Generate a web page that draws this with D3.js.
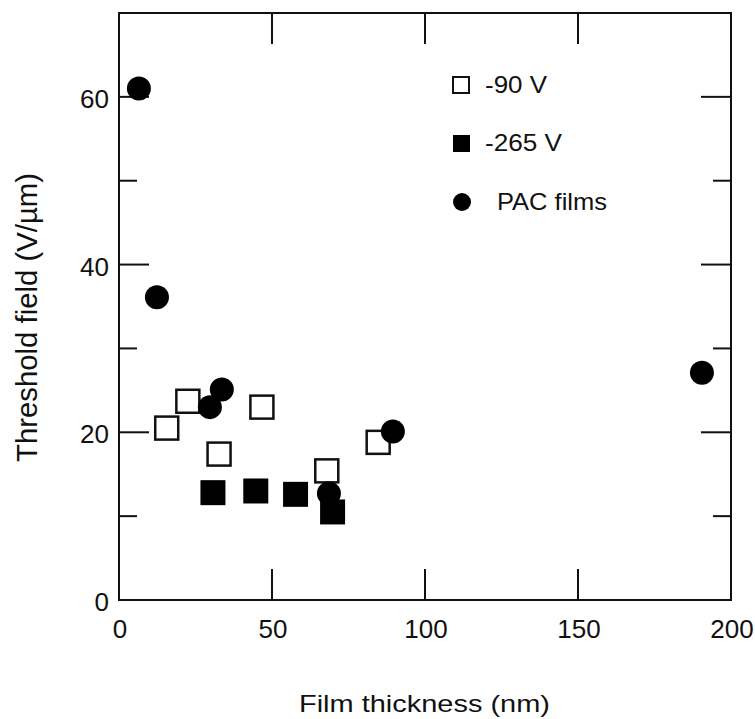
<!DOCTYPE html>
<html>
<head>
<meta charset="UTF-8">
<title>Threshold field vs film thickness</title>
<style>
  body { margin: 0; background: #fff; }
  svg { display: block; }
  text { font-family: "Liberation Sans", Arial, sans-serif; fill: #111; }
</style>
<script src="https://d3js.org/d3.v7.min.js"></script>
</head>
<body>
<svg id="chart" width="755" height="719"></svg>
<script>
  // series: [thickness nm, threshold V/um]
  const open90 = [[15.6, 20.5], [22.5, 23.7], [32.7, 17.4], [46.7, 23.0], [67.9, 15.4], [84.7, 18.8]];
  const filled265 = [[30.7, 12.8], [44.7, 13.0], [57.7, 12.6], [69.8, 10.5]];
  const pacFilms = [[6.5, 61.0], [12.4, 36.1], [29.7, 23.0], [33.6, 25.1], [68.6, 12.7], [89.5, 20.1], [190.5, 27.1]];

  const xTicks = [0, 50, 100, 150, 200];
  const yTicks = [0, 20, 40, 60];
  const yMinor = [10, 30, 50];
  const legendLabels = ['-90 V', '-265 V', 'PAC films'];

  const svg = d3.select('#chart');
  const m = { left: 119, right: 731, top: 13, bottom: 600 };

  const x = d3.scaleLinear().domain([0, 200]).range([m.left, m.right]);
  const y = d3.scaleLinear().domain([0, 70]).range([m.bottom, m.top]);

  const g = svg.append('g');

  // frame
  g.append('rect')
    .attr('x', m.left).attr('y', m.top)
    .attr('width', m.right - m.left).attr('height', m.bottom - m.top)
    .attr('fill', 'none').attr('stroke', '#111').attr('stroke-width', 2);

  // x ticks (inward, bottom and top)
  const innerX = xTicks.filter(d => d > 0 && d < 200);
  g.append('g').selectAll('line').data(innerX).join('line')
    .attr('x1', d => x(d)).attr('x2', d => x(d))
    .attr('y1', m.bottom).attr('y2', m.bottom - 31)
    .attr('stroke', '#111').attr('stroke-width', 2);
  g.append('g').selectAll('line').data(innerX).join('line')
    .attr('x1', d => x(d)).attr('x2', d => x(d))
    .attr('y1', m.top).attr('y2', m.top + 31)
    .attr('stroke', '#111').attr('stroke-width', 2);

  // y ticks (inward, left and right)
  const innerY = yTicks.filter(d => d > 0);
  [[innerY, 30], [yMinor, 18]].forEach(([vals, len]) => {
    g.append('g').selectAll('line').data(vals).join('line')
      .attr('x1', m.left).attr('x2', m.left + len)
      .attr('y1', d => y(d)).attr('y2', d => y(d))
      .attr('stroke', '#111').attr('stroke-width', 2);
    g.append('g').selectAll('line').data(vals).join('line')
      .attr('x1', m.right).attr('x2', m.right - len)
      .attr('y1', d => y(d)).attr('y2', d => y(d))
      .attr('stroke', '#111').attr('stroke-width', 2);
  });

  // tick labels
  g.append('g').selectAll('text').data(xTicks).join('text')
    .attr('x', d => x(d) + 1).attr('y', m.bottom + 38)
    .attr('text-anchor', 'middle')
    .style('font-size', '26px')
    .text(d => d);
  g.append('g').selectAll('text').data(yTicks).join('text')
    .attr('x', m.left - 10).attr('y', d => y(d) + 11)
    .attr('text-anchor', 'end')
    .style('font-size', '26px')
    .text(d => d);

  // axis titles
  svg.append('text')
    .attr('x', 299).attr('y', 712)
    .attr('textLength', 251).attr('lengthAdjust', 'spacingAndGlyphs')
    .style('font-size', '24px')
    .text('Film thickness (nm)');
  svg.append('text')
    .attr('transform', 'translate(37,462) rotate(-90)')
    .attr('textLength', 289).attr('lengthAdjust', 'spacingAndGlyphs')
    .style('font-size', '30px')
    .text('Threshold field (V/\u00b5m)');

  // markers
  const sq = 23;
  g.append('g').selectAll('rect').data(open90).join('rect')
    .attr('x', d => x(d[0]) - sq / 2).attr('y', d => y(d[1]) - sq / 2)
    .attr('width', sq).attr('height', sq)
    .attr('fill', '#fff').attr('stroke', '#111').attr('stroke-width', 2.5);
  g.append('g').selectAll('rect').data(filled265).join('rect')
    .attr('x', d => x(d[0]) - (sq + 2) / 2).attr('y', d => y(d[1]) - (sq + 2) / 2)
    .attr('width', sq + 2).attr('height', sq + 2)
    .attr('fill', '#000');
  g.append('g').selectAll('circle').data(pacFilms).join('circle')
    .attr('cx', d => x(d[0])).attr('cy', d => y(d[1]))
    .attr('r', 12).attr('fill', '#000');

  // legend
  const leg = svg.append('g');
  const legY = [85, 143, 202];
  const legW = [62, 77, 110];
  leg.append('rect').attr('x', 453).attr('y', legY[0] - 8).attr('width', 16).attr('height', 16)
    .attr('fill', '#fff').attr('stroke', '#111').attr('stroke-width', 2);
  leg.append('rect').attr('x', 453).attr('y', legY[1] - 8).attr('width', 17).attr('height', 17)
    .attr('fill', '#000');
  leg.append('circle').attr('cx', 462).attr('cy', legY[2]).attr('r', 9).attr('fill', '#000');
  leg.selectAll('text').data(legendLabels).join('text')
    .attr('x', (d, i) => i === 2 ? 497 : 485)
    .attr('y', (d, i) => legY[i] + 8)
    .attr('textLength', (d, i) => legW[i]).attr('lengthAdjust', 'spacingAndGlyphs')
    .style('font-size', '24px')
    .text(d => d);
</script>
</body>
</html>
